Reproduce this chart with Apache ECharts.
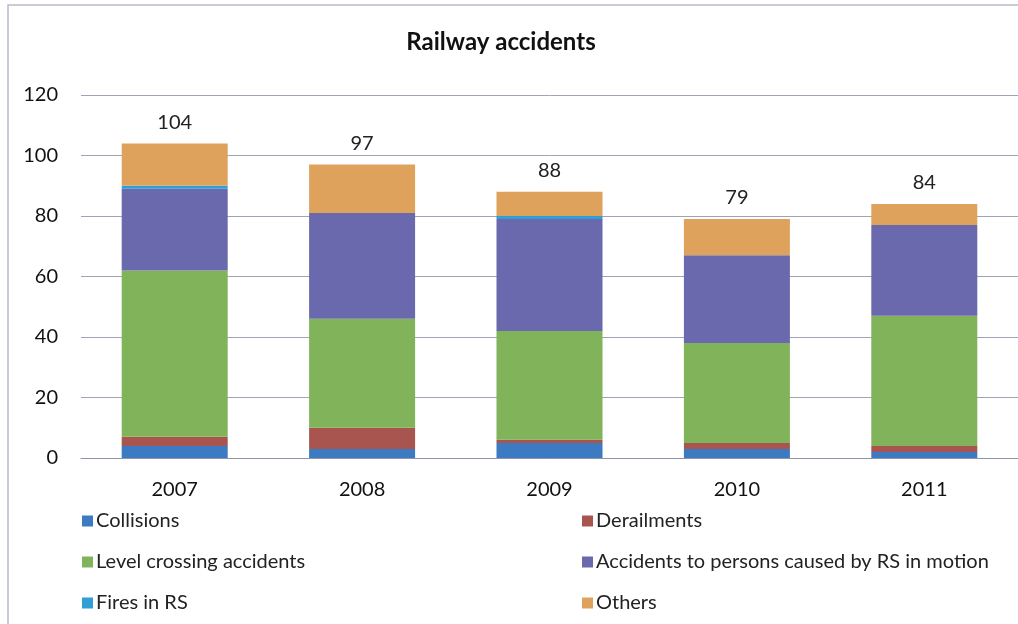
<!DOCTYPE html>
<html>
<head>
<meta charset="utf-8">
<script src="https://cdn.jsdelivr.net/npm/echarts@6/dist/echarts.min.js"></script>
<style>
html,body{margin:0;padding:0;background:#fff;}
#chart{width:1018px;height:624px;}
</style>
</head>
<body>
<div id="chart"></div>
<script>
const years = ['2007', '2008', '2009', '2010', '2011'];
const collisions = [4, 3, 5, 3, 2];
const derailments = [3, 7, 1, 2, 2];
const levelCrossing = [55, 36, 36, 33, 43];
const persons = [27, 35, 37, 29, 30];
const fires = [1, 0, 1, 0, 0];
const others = [14, 16, 8, 12, 7];
const yTicks = [0, 20, 40, 60, 80, 100, 120];

const names = ['Collisions', 'Derailments', 'Level crossing accidents',
  'Accidents to persons caused by RS in motion', 'Fires in RS', 'Others'];
const colors = ['#3c7bc1', '#a9554f', '#80b35a', '#6a69ae', '#2f9fd6', '#dfa25c'];
const seriesData = [collisions, derailments, levelCrossing, persons, fires, others];
const totals = years.map((_, i) => seriesData.reduce((s, arr) => s + arr[i], 0));

const font = 'Lato, "Open Sans", sans-serif';
const chart = echarts.init(document.getElementById('chart'));

const series = names.map((n, k) => ({
  name: n,
  type: 'bar',
  stack: 'total',
  barWidth: 106,
  data: seriesData[k],
  itemStyle: { color: colors[k] },
  label: k === names.length - 1 ? {
    show: true,
    position: 'top',
    distance: 11,
    formatter: p => String(totals[p.dataIndex]),
    fontFamily: font,
    fontSize: 20,
    color: '#222'
  } : { show: false }
}));

const legendText = { fontFamily: font, fontSize: 20, color: '#222', lineHeight: 22, padding: [0, 0, 0, -2] };

chart.setOption({
  backgroundColor: '#fff',
  animation: false,
  title: {
    text: 'Railway accidents',
    left: 496,
    textAlign: 'center',
    top: 25,
    textStyle: { fontFamily: font, fontWeight: 'bold', fontSize: 24, color: '#111' }
  },
  graphic: [{
    type: 'rect',
    shape: { x: 8, y: 5, width: 1030, height: 640 },
    style: { fill: 'none', stroke: '#b8bccb', lineWidth: 1.5 },
    silent: true, z: -1
  }],
  legend: [
    {
      data: [names[0], names[2], names[4]],
      orient: 'vertical', left: 77, top: 505,
      itemWidth: 11, itemHeight: 11, itemGap: 19,
      icon: 'rect',
      textStyle: legendText
    },
    {
      data: [names[1], names[3], names[5]],
      orient: 'vertical', left: 577, top: 505,
      itemWidth: 11, itemHeight: 11, itemGap: 19,
      icon: 'rect',
      textStyle: legendText
    }
  ],
  grid: { left: 81, right: 0, top: 95, bottom: 166, containLabel: false },
  xAxis: {
    type: 'category',
    data: years,
    axisLine: { show: true, lineStyle: { color: '#8e95a8', width: 1 } },
    axisTick: { show: false },
    axisLabel: { fontFamily: font, fontSize: 20, color: '#111', margin: 22 }
  },
  yAxis: {
    type: 'value',
    min: yTicks[0], max: yTicks[yTicks.length - 1], interval: yTicks[1] - yTicks[0],
    axisLine: { show: false },
    axisTick: { show: false },
    splitLine: { lineStyle: { color: '#9ea4b6', width: 1 } },
    axisLabel: { fontFamily: font, fontSize: 20, color: '#111', margin: 23 }
  },
  series: series
});
</script>
</body>
</html>
